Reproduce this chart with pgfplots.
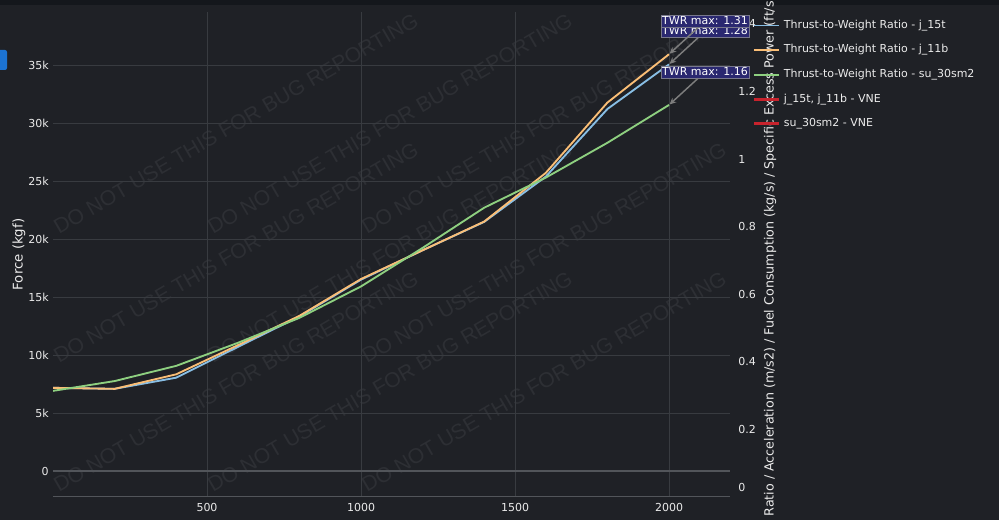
\documentclass[border=0pt]{standalone}
\usepackage{fontspec}
\setmainfont{DejaVu Sans}
\newfontfamily\wmfont{Liberation Sans}
\usepackage{pgfplots}
\usepackage{pgfplotstable}
\pgfplotsset{compat=1.18}
\usetikzlibrary{arrows.meta}
\definecolor{bg}{RGB}{31,33,38}
\definecolor{topbar}{RGB}{20,23,28}
\definecolor{gridc}{RGB}{56,59,64}
\definecolor{zeroc}{RGB}{82,85,90}
\definecolor{txt}{RGB}{235,235,235}
\definecolor{wmc}{RGB}{45,47,52}
\definecolor{cblue}{RGB}{136,190,228}
\definecolor{corange}{RGB}{250,190,118}
\definecolor{cgreen}{RGB}{142,208,128}
\definecolor{cred}{RGB}{200,35,45}
\definecolor{annfill}{RGB}{42,40,112}
\definecolor{annline}{RGB}{120,120,140}
\definecolor{arrowc}{RGB}{125,125,125}
\definecolor{uiblue}{RGB}{28,115,210}

\pgfplotstableread{
x    j15t   j11b   su30
0    0.323  0.323  0.314
200  0.320  0.320  0.343
400  0.353  0.363  0.388
600  0.444  0.449  0.456
800  0.534  0.536  0.530
1000 0.643  0.645  0.623
1200 0.730  0.730  0.737
1400 0.814  0.815  0.856
1600 0.948  0.959  0.945
1800 1.148  1.167  1.048
2000 1.280  1.310  1.160
}\twrdata

\begin{document}
\begin{tikzpicture}
\fill[bg] (0,0) rectangle (749.25pt,390pt);
\fill[topbar] (0,386.25pt) rectangle (749.25pt,390pt);
\fill[uiblue, rounded corners=1.5pt] (-3pt,337.5pt) rectangle (5.25pt,352.5pt);
% watermark
\begin{scope}
\clip (39.75pt,17.25pt) rectangle (547.5pt,381pt);
\foreach \i in {0,1,2}{\foreach \j in {0,1,2}{
 \node[text=wmc, font=\wmfont\fontsize{15.8pt}{15.8pt}\selectfont, rotate=30.2, anchor=base west, inner sep=0pt]
   at ({(59+154*\i)*0.75pt},{(285-129*\j)*0.75pt}) {DO NOT USE THIS FOR BUG REPORTING};
}}
\end{scope}
% left axis (Force)
\begin{axis}[
 at={(39.75pt,17.25pt)}, anchor=south west, width=507.75pt, height=363.75pt, scale only axis,
 xmin=0, xmax=2198, ymin=-2202, ymax=39637,
 axis line style={draw=none}, major tick length=0pt,
 xtick={500,1000,1500,2000}, xticklabels={500,1000,1500,2000},
 ytick={5000,10000,15000,20000,25000,30000,35000}, yticklabels={5k,10k,15k,20k,25k,30k,35k},
 extra y ticks={0}, extra y tick labels={0},
 extra y tick style={grid=major, grid style={zeroc, line width=1.5pt}},
 grid=major, grid style={gridc, line width=0.75pt},
 tick label style={text=txt, font=\fontsize{8.25pt}{9pt}\selectfont},
 yticklabel style={inner sep=0pt, xshift=-3pt},
 xticklabel style={inner sep=0pt, yshift=-4.5pt},
 /pgf/number format/assume math mode=true,
 ylabel={Force (kgf)},
 every axis y label/.style={at={(rel axis cs:-0.0502,0.5)}, rotate=90, anchor=center, text=txt, font=\fontsize{10pt}{12pt}\selectfont},
]
\end{axis}
% right axis (TWR)
\begin{axis}[
 at={(39.75pt,17.25pt)}, anchor=south west, width=507.75pt, height=363.75pt, scale only axis,
 xmin=0, xmax=2198, ymin=0, ymax=1.435,
 axis line style={draw=none}, major tick length=0pt,
 xtick=\empty, axis y line*=right,
 ytick={0.2,0.4,0.6,0.8,1,1.2,1.4}, yticklabels={0.2,0.4,0.6,0.8,1,1.2,1.4},
 extra y ticks={0}, extra y tick labels={0},
 extra y tick style={yticklabel style={yshift=7.5pt}},
 tick label style={text=txt, font=\fontsize{8.25pt}{9pt}\selectfont},
 yticklabel style={inner sep=0pt, anchor=west, xshift=6pt},
 /pgf/number format/assume math mode=true,
 ylabel={Thrust-to-Weight Ratio / Acceleration (m/s2) / Fuel Consumption (kg/s) / Specific Excess Power (ft/s)},
 every axis y label/.style={at={(rel axis cs:1.0591,1.033)}, rotate=90, anchor=east, inner sep=0pt, text=txt, font=\fontsize{9.5pt}{11pt}\selectfont},
 legend style={at={(rel axis cs:1.0325,0.984)}, anchor=north west, draw=none, fill=none, inner sep=0pt,
   row sep=10.25pt, column sep=2.5pt, text=txt, font=\fontsize{8.25pt}{10pt}\selectfont,
   nodes={inner sep=0pt, text height=6.2pt, text depth=2pt}},
 legend cell align=left,
 legend image code/.code={\draw[#1] (0pt,0pt) -- (18.75pt,0pt);},
]
\draw[zeroc, line width=1.5pt] (rel axis cs:0,0) -- (rel axis cs:1,0);
\addplot[cblue, line width=1.4pt] table[x=x, y=j15t] {\twrdata};
\addlegendentry{Thrust-to-Weight Ratio - j\_15t}
\addplot[corange, line width=1.4pt] table[x=x, y=j11b] {\twrdata};
\addlegendentry{Thrust-to-Weight Ratio - j\_11b}
\addplot[cgreen, line width=1.4pt] table[x=x, y=su30] {\twrdata};
\addlegendentry{Thrust-to-Weight Ratio - su\_30sm2}
\addlegendimage{cred, line width=2.4pt}
\addlegendentry{j\_15t, j\_11b - VNE}
\addlegendimage{cred, line width=2.4pt}
\addlegendentry{su\_30sm2 - VNE}
\coordinate (a1) at (axis cs:2000,1.31);
\coordinate (a2) at (axis cs:2000,1.28);
\coordinate (a3) at (axis cs:2000,1.16);
\end{axis}
% annotations
\tikzset{ann/.style={draw=annline, line width=0.6pt, fill=annfill, text=white, inner xsep=1pt, inner ysep=0.5pt,
  text height=6.5pt, text depth=1.5pt, font=\fontsize{8.25pt}{9pt}\selectfont, xshift=27pt, yshift=24.75pt},
  annarrow/.style={arrowc, line width=1.1pt, -{Stealth[length=5pt,width=4.5pt]}, shorten >=0.5pt}}
\node[ann] (b2) at (a2) {TWR max: 1.28};
\draw[annarrow] (b2) -- (a2);
\node[ann] (b3) at (a3) {TWR max: 1.16};
\draw[annarrow] (b3) -- (a3);
\node[ann] (b1) at (a1) {TWR max: 1.31};
\draw[annarrow] (b1) -- (a1);
\pgfresetboundingbox
\useasboundingbox (0,0) rectangle (749.25pt,390pt);
\end{tikzpicture}
\end{document}
